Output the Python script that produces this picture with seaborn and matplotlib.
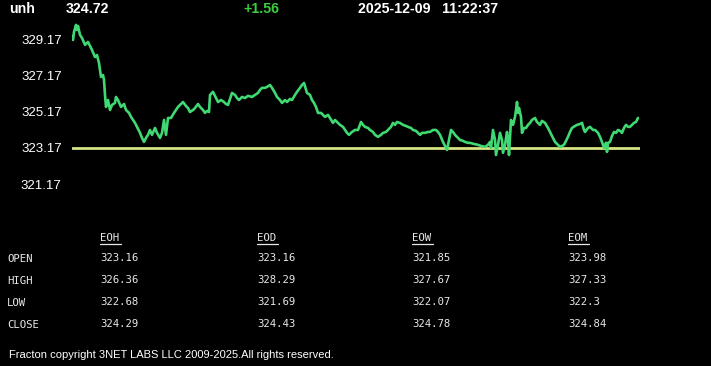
import matplotlib
matplotlib.use("Agg")
import matplotlib.pyplot as plt
from matplotlib.lines import Line2D
import seaborn as sns
import pandas as pd

# ---------------- data ----------------
symbol = "unh"
last_price = "324.72"
change = "+1.56"
stamp = "2025-12-09   11:22:37"
open_price = 323.16

tick_values = [321.17, 323.17, 325.17, 327.17, 329.17]
tick_labels = ["321.17", "323.17", "325.17", "327.17", "329.17"]

times = [0, 1, 2, 4, 5, 6, 8, 10, 13, 16, 18, 20, 23, 25, 27, 29, 31, 32, 33, 34, 36, 38, 40, 43, 44, 46, 49, 52,
         54, 57, 59, 61, 63, 65, 68, 70, 72, 74, 76, 78, 80, 83, 85, 88, 90, 92, 94, 96, 99, 102, 106, 109, 111,
         114, 116, 118, 121, 123, 126, 128, 131, 133, 135, 137, 138, 141, 144, 146, 149, 152, 154, 156, 158, 160,
         163, 165, 167, 170, 173, 176, 180, 183, 186, 188, 190, 193, 195, 198, 200, 203, 205, 208, 210, 213, 215,
         218, 220, 223, 225, 228, 230, 232, 235, 238, 240, 242, 244, 246, 249, 253, 256, 258, 261, 263, 265, 268,
         271, 273, 275, 277, 280, 283, 286, 289, 291, 293, 296, 298, 301, 303, 306, 309, 311, 314, 316, 319, 321,
         323, 325, 328, 331, 334, 336, 339, 341, 344, 346, 348, 350, 353, 356, 358, 361, 364, 366, 368, 371, 373,
         375, 377, 379, 381, 383, 386, 388, 391, 393, 396, 398, 402, 406, 409, 413, 416, 418, 419, 421, 423, 424,
         426, 428, 430, 431, 433, 435, 436, 437, 439, 441, 443, 444, 445, 446, 447, 449, 450, 452, 454, 456, 458,
         460, 463, 465, 468, 470, 473, 476, 478, 481, 483, 486, 488, 490, 492, 494, 496, 498, 500, 503, 505, 508,
         510, 512, 513, 516, 518, 521, 523, 526, 528, 530, 532, 534, 535, 536, 538, 540, 542, 544, 546, 548, 550,
         552, 554, 556, 558, 560, 562, 564, 566]
prices = [329.29, 329.12, 329.56, 329.95, 329.67, 329.89, 329.40, 329.23, 328.85, 329.01, 328.79, 328.57, 328.18,
          328.29, 327.85, 327.08, 327.19, 326.92, 326.09, 325.43, 325.81, 325.26, 325.54, 325.65, 325.98, 325.81,
          325.43, 325.59, 325.26, 325.10, 324.88, 324.71, 324.55, 324.33, 324.00, 323.72, 323.50, 323.72, 323.89,
          324.16, 323.89, 324.27, 324.00, 323.72, 324.00, 324.71, 323.89, 324.82, 324.82, 325.10, 325.43, 325.59,
          325.70, 325.48, 325.37, 325.15, 325.26, 325.37, 325.59, 325.43, 325.26, 325.10, 325.21, 325.15, 326.09,
          326.26, 325.92, 325.70, 325.81, 325.70, 325.59, 325.54, 325.87, 326.20, 326.09, 325.92, 325.81, 325.98,
          325.92, 326.04, 325.98, 326.09, 326.20, 326.37, 326.48, 326.48, 326.53, 326.64, 326.48, 326.20, 325.98,
          325.81, 325.65, 325.81, 325.70, 325.87, 325.81, 326.09, 326.26, 326.48, 326.64, 326.75, 326.20, 326.09,
          325.81, 325.65, 325.43, 325.10, 325.10, 324.88, 324.99, 324.82, 324.55, 324.71, 324.60, 324.44, 324.33,
          324.16, 324.00, 323.89, 324.05, 324.16, 324.16, 324.60, 324.44, 324.33, 324.27, 324.16, 324.05, 323.89,
          323.78, 323.89, 324.00, 324.05, 324.16, 324.33, 324.55, 324.44, 324.60, 324.55, 324.44, 324.38, 324.33,
          324.27, 324.16, 324.11, 324.00, 323.89, 324.00, 324.00, 324.05, 324.05, 324.16, 324.16, 324.05, 323.89,
          323.50, 323.28, 323.06, 323.61, 324.16, 324.05, 323.89, 323.72, 323.61, 323.56, 323.50, 323.45, 323.45,
          323.39, 323.34, 323.28, 323.23, 323.34, 323.50, 323.17, 324.16, 323.61, 322.78, 323.34, 324.00, 323.61,
          322.90, 323.34, 324.05, 323.61, 322.78, 324.71, 324.44, 324.88, 325.26, 325.70, 325.10, 325.37, 324.88,
          324.00, 324.27, 324.27, 324.44, 324.55, 324.71, 324.82, 324.60, 324.44, 324.66, 324.55, 324.27, 324.05,
          323.72, 323.50, 323.34, 323.23, 323.28, 323.34, 323.56, 323.78, 324.05, 324.27, 324.38, 324.44, 324.49,
          324.55, 324.16, 324.05, 324.27, 324.33, 324.16, 324.16, 324.00, 323.78, 323.50, 323.17, 323.45, 322.95,
          323.45, 323.50, 323.83, 324.05, 324.00, 324.16, 324.11, 324.00, 324.27, 324.44, 324.33, 324.33, 324.44,
          324.55, 324.60, 324.82]

row_labels = ["OPEN", "HIGH", "LOW", "CLOSE"]
col_labels = ["EOH", "EOD", "EOW", "EOM"]
table_values = {
    "EOH": ["323.16", "326.36", "322.68", "324.29"],
    "EOD": ["323.16", "328.29", "321.69", "324.43"],
    "EOW": ["321.85", "327.67", "322.07", "324.78"],
    "EOM": ["323.98", "327.33", "322.3", "324.84"],
}
copyright_text = "Fracton copyright 3NET LABS LLC 2009-2025.All rights reserved."

# ---------------- figure ----------------
sns.set_theme(style="dark")
plt.rcParams["font.family"] = ["Liberation Sans", "DejaVu Sans"]

W, H = 711, 366
fig = plt.figure(figsize=(W / 100, H / 100), dpi=100, facecolor="black")

def fx(px):
    return px / W

def fy(py):
    return 1 - py / H

ax = fig.add_axes([fx(72), fy(200), fx(640) - fx(72), fy(20) - fy(200)])
ax.set_facecolor("black")

df = pd.DataFrame({"t": times, "price": prices})
ax.axhline(open_price, color="#d6e283", lw=2.0, zorder=1)
sns.lineplot(data=df, x="t", y="price", ax=ax, color="#3fd872", lw=1.9, zorder=2)

ax.set_xlim(0, 568)
ax.set_ylim(320.30, 330.22)
ax.set_xticks([])
ax.set_yticks(tick_values)
ax.set_yticklabels(tick_labels)
ax.tick_params(axis="y", length=0, pad=7.5, labelsize=9.5, colors="white")
ax.set_xlabel("")
ax.set_ylabel("")
ax.grid(False)
for s in ax.spines.values():
    s.set_visible(False)

# header
hdr = dict(color="white", fontsize=10.2, fontweight="bold", va="center", ha="left")
fig.text(fx(9), fy(9), symbol, **hdr)
fig.text(fx(66), fy(9), last_price, **hdr)
fig.text(fx(243), fy(9), change, **{**hdr, "color": "#3ccc3c"})
fig.text(fx(358), fy(9), stamp, **hdr)

# table
mono = dict(family="DejaVu Sans Mono", fontsize=7.7, color="#e8e8e8", va="center", ha="left")
col_x = [100, 257, 412, 568]
row_y = [259, 281, 303, 325]
for cx, cl in zip(col_x, col_labels):
    fig.text(fx(cx), fy(238), cl, **mono)
    fig.add_artist(Line2D([fx(cx), fx(cx + 21)], [fy(244), fy(244)], color="#e8e8e8", lw=0.9))
    for ry, v in zip(row_y, table_values[cl]):
        fig.text(fx(cx), fy(ry - 1), v, **mono)
for ry, rl in zip(row_y, row_labels):
    fig.text(fx(7), fy(ry), rl, **mono)

fig.text(fx(9), fy(355), copyright_text, color="white", fontsize=8, va="center", ha="left")

fig.savefig("out.png", dpi=100, facecolor="black")
